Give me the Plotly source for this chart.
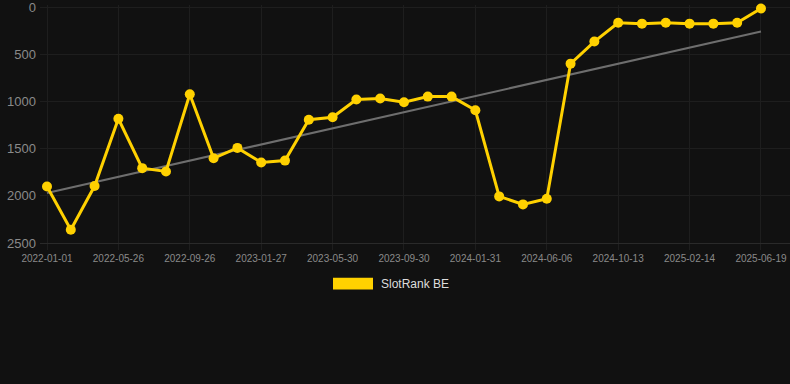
import numpy as np
import plotly.graph_objects as go

dates = [
    "2022-01-01", "2022-02-18", "2022-04-07",
    "2022-05-26", "2022-07-06", "2022-08-16",
    "2022-09-26", "2022-11-05", "2022-12-16",
    "2023-01-27", "2023-03-08", "2023-04-18",
    "2023-05-30", "2023-07-10", "2023-08-20",
    "2023-09-30", "2023-11-10", "2023-12-21",
    "2024-01-31", "2024-03-13", "2024-04-25",
    "2024-06-06", "2024-07-18", "2024-08-30",
    "2024-10-13", "2024-11-23", "2025-01-03",
    "2025-02-14", "2025-03-27", "2025-05-08",
    "2025-06-19",
]
rank = [
    1900, 2360, 1895, 1180, 1705, 1740, 920, 1600, 1490, 1645, 1625,
    1190, 1165, 975, 965, 1005, 945, 945, 1090, 2005, 2090, 2030,
    595, 360, 160, 170, 160, 170, 170, 160, 10,
]
tick_labels = dates[::3]
y_ticks = [0, 500, 1000, 1500, 2000, 2500]
series_name = "SlotRank BE"

idx = np.arange(len(rank))
slope, intercept = np.polyfit(idx, rank, 1)
trend = slope * idx + intercept

YELLOW = "#FFD100"
fig = go.Figure()
fig.add_trace(go.Scatter(
    x=dates, y=trend, mode="lines",
    line=dict(color="#6e6e6e", width=2), showlegend=False, hoverinfo="skip",
))
fig.add_trace(go.Scatter(
    x=dates, y=rank, mode="lines+markers", name=series_name,
    line=dict(color=YELLOW, width=3),
    marker=dict(color=YELLOW, size=10),
    showlegend=False, cliponaxis=False,
))

PLOT_TOP = 3
PLOT_BOTTOM = 243
fig.update_layout(
    width=790, height=384,
    paper_bgcolor="#111111", plot_bgcolor="#111111",
    margin=dict(l=40, r=0, t=PLOT_TOP, b=384 - PLOT_BOTTOM),
    font=dict(family="Liberation Sans, Arial, sans-serif", color="#8a8a8a"),
    xaxis=dict(
        type="category", range=[-0.294, 31.22],
        tickmode="array", tickvals=tick_labels, ticktext=tick_labels,
        tickfont=dict(size=10, color="#8a8a8a"),
        showgrid=True, gridcolor="#1e1e1e", gridwidth=1,
        showline=True, linecolor="#2a2a2a", linewidth=1,
        ticks="outside", ticklen=6, tickcolor="#1e1e1e",
        zeroline=False, ticklabeloverflow="allow",
    ),
    yaxis=dict(
        range=[2500, -28], tickvals=y_ticks,
        tickfont=dict(size=13, color="#8a8a8a"),
        showgrid=True, gridcolor="#1e1e1e", gridwidth=1,
        showline=False, zeroline=False, ticks="", ticklabelstandoff=3,
        ticklabeloverflow="allow",
    ),
    showlegend=False,
)

# custom legend (box swatch + label)
ph = PLOT_BOTTOM - PLOT_TOP
fig.add_shape(type="rect", xref="paper", yref="paper",
              x0=(333 - 40) / 750, x1=(373 - 40) / 750,
              y0=(PLOT_BOTTOM - 290) / ph, y1=(PLOT_BOTTOM - 278) / ph,
              fillcolor=YELLOW, line=dict(width=0))
fig.add_annotation(xref="paper", yref="paper",
                   x=(379 - 40) / 750, y=(PLOT_BOTTOM - 284) / ph,
                   xanchor="left", yanchor="middle", showarrow=False,
                   text=series_name, font=dict(size=12, color="#dddddd"))

fig.write_html(
    "out.html",
    config={"displayModeBar": False},
    post_script="document.body.style.margin='0';document.body.style.background='#111111';document.body.style.overflow='hidden';",
)
